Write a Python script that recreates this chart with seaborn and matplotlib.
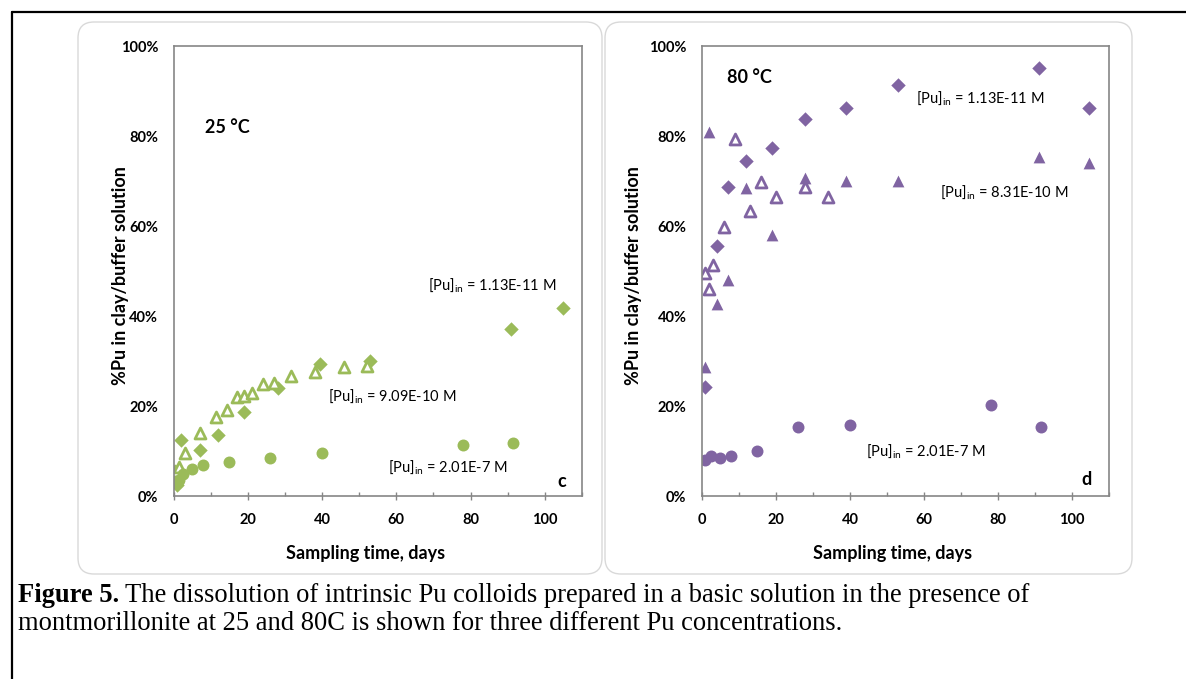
import pandas as pd
import matplotlib
matplotlib.use('Agg')
import matplotlib.pyplot as plt
import seaborn as sns
from matplotlib.patches import FancyBboxPatch
from matplotlib.lines import Line2D
from matplotlib.transforms import IdentityTransform
from matplotlib.ticker import MultipleLocator, PercentFormatter

sns.set_theme(style='white')
plt.rcParams['font.family'] = ['Lato', 'DejaVu Sans']
plt.rcParams['text.color'] = 'black'
plt.rcParams['axes.labelcolor'] = 'black'
plt.rcParams['xtick.labelcolor'] = 'black'
plt.rcParams['ytick.labelcolor'] = 'black'

# 색상 (Excel 기본 팔레트)
green = '#9BBB59'
purple = '#8064A2'

# ---- 25 °C 데이터 ----
t25_d = [1, 1, 2, 7, 12, 19, 28, 39.5, 53, 91, 105]
p25_d = [2.5, 4.0, 12.4, 10.2, 13.6, 18.7, 24.1, 29.3, 30.0, 37.1, 41.7]
t25_t = [0.5, 1.5, 3, 7, 11.5, 14.5, 17, 19, 21, 24, 27, 31.5, 38, 46, 52]
p25_t = [5.5, 6.5, 9.5, 13.9, 17.6, 19.1, 22.1, 22.2, 22.8, 25.0, 25.2, 26.7, 27.5, 28.6, 28.9]
t25_c = [1, 1.5, 2.5, 5, 8, 15, 26, 40, 78, 91.5]
p25_c = [3.0, 3.6, 4.8, 5.9, 6.8, 7.6, 8.4, 9.5, 11.4, 11.7]

# ---- 80 °C 데이터 ----
t80_d = [1, 4, 7, 12, 19, 28, 39, 53, 91, 104.5]
p80_d = [24.3, 55.6, 68.6, 74.5, 77.4, 83.8, 86.3, 91.3, 95.2, 86.3]
t80_tf = [1, 2, 4, 7, 12, 19, 28, 39, 53, 91, 104.5]
p80_tf = [28.7, 81.0, 42.6, 48.0, 68.4, 58.1, 70.7, 70.0, 69.9, 75.4, 74.1]
t80_to = [1, 2, 3, 6, 9, 13, 16, 20, 28, 34]
p80_to = [49.5, 46.1, 51.3, 59.8, 79.3, 63.3, 69.7, 66.5, 68.7, 66.5]
t80_c = [1, 2.5, 5, 8, 15, 26, 40, 78, 91.5]
p80_c = [8.0, 9.0, 8.4, 9.0, 10.1, 15.4, 15.8, 20.2, 15.3]

W, H = 1186, 679
fig = plt.figure(figsize=(W / 100, H / 100), dpi=100)

# 문서 테두리
fig.add_artist(Line2D([12, W], [H - 12, H - 12], color='black', lw=1.6,
                      transform=IdentityTransform(), zorder=-2))
fig.add_artist(Line2D([12, 12], [0, H - 12], color='black', lw=1.6,
                      transform=IdentityTransform(), zorder=-2))

# 둥근 패널 배경
for x0, x1 in [(78, 602), (605, 1132)]:
    fig.add_artist(FancyBboxPatch((x0, H - 574), x1 - x0, 574 - 22,
                                  boxstyle='round,pad=0,rounding_size=16',
                                  fc='white', ec='#d9d9d9', lw=1.0,
                                  transform=IdentityTransform(), zorder=-1))


def pos(x0, x1):
    return [x0 / W, (H - 496) / H, (x1 - x0) / W, 450 / H]


def label(ax, x, y, conc):
    ax.text(x, y, '[Pu]$_{\\mathregular{in}}$ = ' + conc, transform=ax.transAxes,
            fontsize=10.5, ha='left', va='center')


def style_axes(ax, ylab_x):
    ax.set_xlim(0, 110)
    ax.set_ylim(0, 100)
    ax.xaxis.set_major_locator(MultipleLocator(20))
    ax.xaxis.set_minor_locator(MultipleLocator(10))
    ax.yaxis.set_major_locator(MultipleLocator(20))
    ax.yaxis.set_major_formatter(PercentFormatter(decimals=0))
    ax.set_xticks([0, 20, 40, 60, 80, 100])
    ax.tick_params(axis='x', which='major', direction='inout', length=6, width=1,
                   color='#868686', pad=9, labelsize=10.5, bottom=True)
    ax.tick_params(axis='x', which='minor', direction='in', length=3, width=1,
                   color='#868686', bottom=True)
    ax.tick_params(axis='y', length=0, pad=11, labelsize=10.5)
    for lab in ax.get_xticklabels() + ax.get_yticklabels():
        lab.set_fontweight('bold')
    for sp in ax.spines.values():
        sp.set_color('#868686')
        sp.set_linewidth(1.2)
        sp.set_visible(True)
    ax.set_xlabel('Sampling time, days', fontsize=13, fontweight='bold')
    ax.set_ylabel('%Pu in clay/buffer solution', fontsize=13, fontweight='bold')
    ax.xaxis.set_label_coords(0.469, -0.108)
    ax.yaxis.set_label_coords(ylab_x, 0.49)
    ax.grid(False)
    ax.set_facecolor('white')


ax1 = fig.add_axes(pos(173.6, 582))
ax2 = fig.add_axes(pos(701.7, 1109.3))

# 25 °C
sns.scatterplot(x=t25_d, y=p25_d, marker='D', s=54, color=green, linewidth=0, ax=ax1)
sns.scatterplot(x=t25_t, y=p25_t, marker='^', s=62, color='white', edgecolor=green,
                linewidth=2, ax=ax1)
sns.scatterplot(x=t25_c, y=p25_c, marker='o', s=74, color=green, linewidth=0, ax=ax1)
style_axes(ax1, -0.11)
ax1.text(0.077, 0.818, '25 °C', transform=ax1.transAxes, fontsize=13,
         fontweight='bold', ha='left', va='center')
label(ax1, 0.623, 0.468, '1.13E-11 M')
label(ax1, 0.378, 0.220, '9.09E-10 M')
label(ax1, 0.525, 0.062, '2.01E-7 M')
ax1.text(0.951, 0.033, 'c', transform=ax1.transAxes, fontsize=13,
         fontweight='bold', ha='center', va='center')

# 80 °C
sns.scatterplot(x=t80_d, y=p80_d, marker='D', s=54, color=purple, linewidth=0, ax=ax2)
sns.scatterplot(x=t80_tf, y=p80_tf, marker='^', s=72, color=purple, linewidth=0, ax=ax2)
sns.scatterplot(x=t80_to, y=p80_to, marker='^', s=62, color='white', edgecolor=purple,
                linewidth=2, ax=ax2)
sns.scatterplot(x=t80_c, y=p80_c, marker='o', s=74, color=purple, linewidth=0, ax=ax2)
style_axes(ax2, -0.147)
ax2.text(0.062, 0.929, '80 °C', transform=ax2.transAxes, fontsize=13,
         fontweight='bold', ha='left', va='center')
label(ax2, 0.526, 0.882, '1.13E-11 M')
label(ax2, 0.585, 0.673, '8.31E-10 M')
label(ax2, 0.403, 0.098, '2.01E-7 M')
ax2.text(0.945, 0.036, 'd', transform=ax2.transAxes, fontsize=13,
         fontweight='bold', ha='center', va='center')

# 캡션
cap_font = ['Liberation Serif', 'DejaVu Serif']
fs = 19.1
y1 = (H - 596) / H
y2 = (H - 624) / H
t_bold = fig.text(18 / W, y1, 'Figure 5.', family=cap_font, fontsize=fs,
                  fontweight='bold', va='center', ha='left', color='black')
r = fig.canvas.get_renderer()
bb = t_bold.get_window_extent(r)
fig.text((bb.x1 + 6) / W, y1,
         'The dissolution of intrinsic Pu colloids prepared in a basic solution in the presence of',
         family=cap_font, fontsize=fs, va='center', ha='left', color='black')
fig.text(18 / W, y2,
         'montmorillonite at 25 and 80C is shown for three different Pu concentrations.',
         family=cap_font, fontsize=fs, va='center', ha='left', color='black')

fig.savefig('out.png', dpi=100)
